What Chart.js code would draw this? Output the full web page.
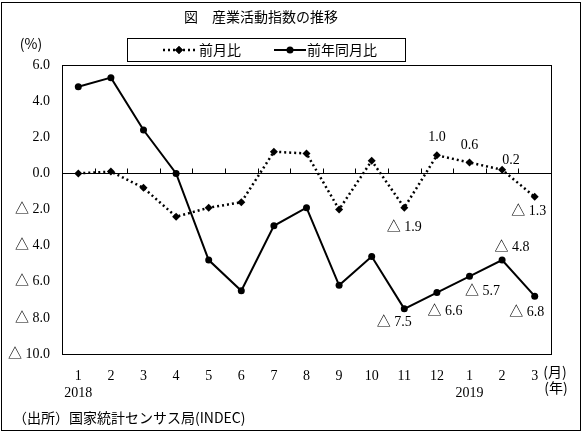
<!DOCTYPE html>
<html>
<head>
<meta charset="utf-8">
<script src="https://cdn.jsdelivr.net/npm/chart.js@4"></script>
<style>
  html, body { margin: 0; padding: 0; background: #fff; }
  canvas { display: block; }
</style>
</head>
<body>
<canvas id="chart" width="585" height="434"></canvas>
<script>
// データ
const months = ['1', '2', '3', '4', '5', '6', '7', '8', '9', '10', '11', '12', '1', '2', '3'];
const years = ['2018', '', '', '', '', '', '', '', '', '', '', '', '2019', '', ''];
const momValues = [0.0, 0.1, -0.8, -2.4, -1.9, -1.6, 1.2, 1.1, -2.0, 0.7, -1.9, 1.0, 0.6, 0.2, -1.3]; // 前月比
const yoyValues = [4.8, 5.3, 2.4, 0.0, -4.8, -6.5, -2.9, -1.9, -6.2, -4.6, -7.5, -6.6, -5.7, -4.8, -6.8]; // 前年同月比
const seriesNames = ['前月比', '前年同月比'];
const yMin = -10;
const yMax = 6;
const yStep = 2;

const titleText = '図　産業活動指数の推移';
const unitText = '(%)';
const sourceText = '（出所）国家統計センサス局(INDEC)';

const NUM_FAMILY = '"Liberation Serif", "Noto Sans CJK JP", serif';
const NUM_FONT = '14px ' + NUM_FAMILY;
const JP_FONT = '14px "Noto Sans CJK JP", sans-serif';

const labels = months.map((m, i) => years[i] ? [m, years[i]] : m);

function fmt(v) {
    return v < 0 ? '△ ' + Math.abs(v).toFixed(1) : v.toFixed(1);
}

// ラベル位置（点からのずれ）
const momLabelOffsets = { 10: [0, 20], 11: [0, -18], 12: [0, -17], 13: [9, -9], 14: [-6, 14] };
const yoyLabelOffsets = { 10: [-10, 13], 11: [8, 19], 12: [13, 15], 13: [10, -13], 14: [-8, 16] };

const decorPlugin = {
    id: 'decor',
    beforeDatasetsDraw(chart) {
        const { ctx, scales: { x, y } } = chart;
        ctx.save();
        ctx.strokeStyle = '#000';
        ctx.lineWidth = 1;
        // 0 の線上の目盛
        const y0 = Math.round(y.getPixelForValue(0)) + 0.5;
        ctx.beginPath();
        for (let i = 0; i < months.length - 1; i++) {
            const xb = Math.round((x.getPixelForValue(i) + x.getPixelForValue(i + 1)) / 2) + 0.5;
            ctx.moveTo(xb, y0);
            ctx.lineTo(xb, y0 - 5);
        }
        ctx.stroke();
        ctx.restore();
    },
    afterDraw(chart) {
        const { ctx, chartArea: a } = chart;
        ctx.save();
        ctx.strokeStyle = '#000';
        ctx.fillStyle = '#000';
        ctx.lineWidth = 1;

        // 外枠とプロット枠
        ctx.strokeRect(1.5, 2.5, 579, 428);
        ctx.strokeRect(Math.round(a.left) + 0.5, Math.round(a.top) + 0.5,
            Math.round(a.right - a.left), Math.round(a.bottom - a.top));

        // タイトル
        ctx.font = JP_FONT;
        ctx.textBaseline = 'middle';
        ctx.textAlign = 'center';
        ctx.fillText(titleText, 261, 17);

        // 単位
        ctx.fillText(unitText, 31, 44);

        // 凡例
        ctx.strokeRect(127.5, 38.5, 278, 23);
        const ly = 50;
        const ds0 = chart.data.datasets[0];
        const ds1 = chart.data.datasets[1];
        ctx.save();
        ctx.lineWidth = ds0.borderWidth;
        ctx.setLineDash(ds0.borderDash);
        ctx.beginPath();
        ctx.moveTo(163, ly);
        ctx.lineTo(195, ly);
        ctx.stroke();
        ctx.restore();
        Chart.helpers.drawPoint(ctx, { pointStyle: 'rectRot', radius: ds0.pointRadius, rotation: 0 }, 179, ly);
        ctx.fill();
        ctx.lineWidth = ds1.borderWidth;
        ctx.beginPath();
        ctx.moveTo(274, ly);
        ctx.lineTo(306, ly);
        ctx.stroke();
        ctx.beginPath();
        ctx.arc(290, ly, ds1.pointRadius, 0, Math.PI * 2);
        ctx.fill();
        ctx.font = JP_FONT;
        ctx.textAlign = 'left';
        ctx.fillText(seriesNames[0], 199, ly);
        ctx.fillText(seriesNames[1], 307, ly);

        // データラベル
        ctx.font = NUM_FONT;
        ctx.textAlign = 'center';
        const drawLabels = (dsIndex, values, offsets) => {
            const meta = chart.getDatasetMeta(dsIndex);
            Object.keys(offsets).forEach(k => {
                const p = meta.data[k];
                const [dx, dy] = offsets[k];
                ctx.fillText(fmt(values[k]), p.x + dx, p.y + dy);
            });
        };
        drawLabels(0, momValues, momLabelOffsets);
        drawLabels(1, yoyValues, yoyLabelOffsets);

        // (月)(年)
        ctx.font = JP_FONT;
        ctx.fillText('(月)', 555, 372);
        ctx.fillText('(年)', 556, 388);

        // 出所
        ctx.textAlign = 'left';
        ctx.fillText(sourceText, 13, 418);
        ctx.restore();
    },
};

new Chart(document.getElementById('chart'), {
    type: 'line',
    data: {
        labels,
        datasets: [
            {
                label: seriesNames[0],
                data: momValues,
                borderColor: '#000',
                backgroundColor: '#000',
                borderWidth: 2.5,
                borderDash: [2, 3],
                pointStyle: 'rectRot',
                pointRadius: 4,
                pointBorderWidth: 0,
                tension: 0,
                fill: false,
            },
            {
                label: seriesNames[1],
                data: yoyValues,
                borderColor: '#000',
                backgroundColor: '#000',
                borderWidth: 2,
                pointStyle: 'circle',
                pointRadius: 3.5,
                pointBorderWidth: 0,
                tension: 0,
                fill: false,
            },
        ],
    },
    options: {
        responsive: false,
        animation: false,
        devicePixelRatio: 1,
        layout: { padding: { top: 65, right: 34, left: 0, bottom: 0 } },
        plugins: {
            legend: { display: false },
            title: { display: false },
            tooltip: { enabled: false },
        },
        scales: {
            x: {
                offset: true,
                grid: { display: false },
                border: { display: false },
                ticks: {
                    color: '#000',
                    font: { family: NUM_FAMILY, size: 14 },
                    padding: 6,
                    maxRotation: 0,
                    autoSkip: false,
                },
                afterFit(scale) { scale.height = 80; },
            },
            y: {
                min: yMin,
                max: yMax,
                grid: {
                    drawTicks: false,
                    color: c => c.tick && c.tick.value === 0 ? '#000' : 'rgba(0,0,0,0)',
                    lineWidth: 1,
                },
                border: { display: false },
                ticks: {
                    stepSize: yStep,
                    color: '#000',
                    font: { family: NUM_FAMILY, size: 14 },
                    padding: 12,
                    callback: v => fmt(v),
                },
                afterFit(scale) { scale.width = 62; },
            },
        },
    },
    plugins: [decorPlugin],
});
</script>
</body>
</html>
